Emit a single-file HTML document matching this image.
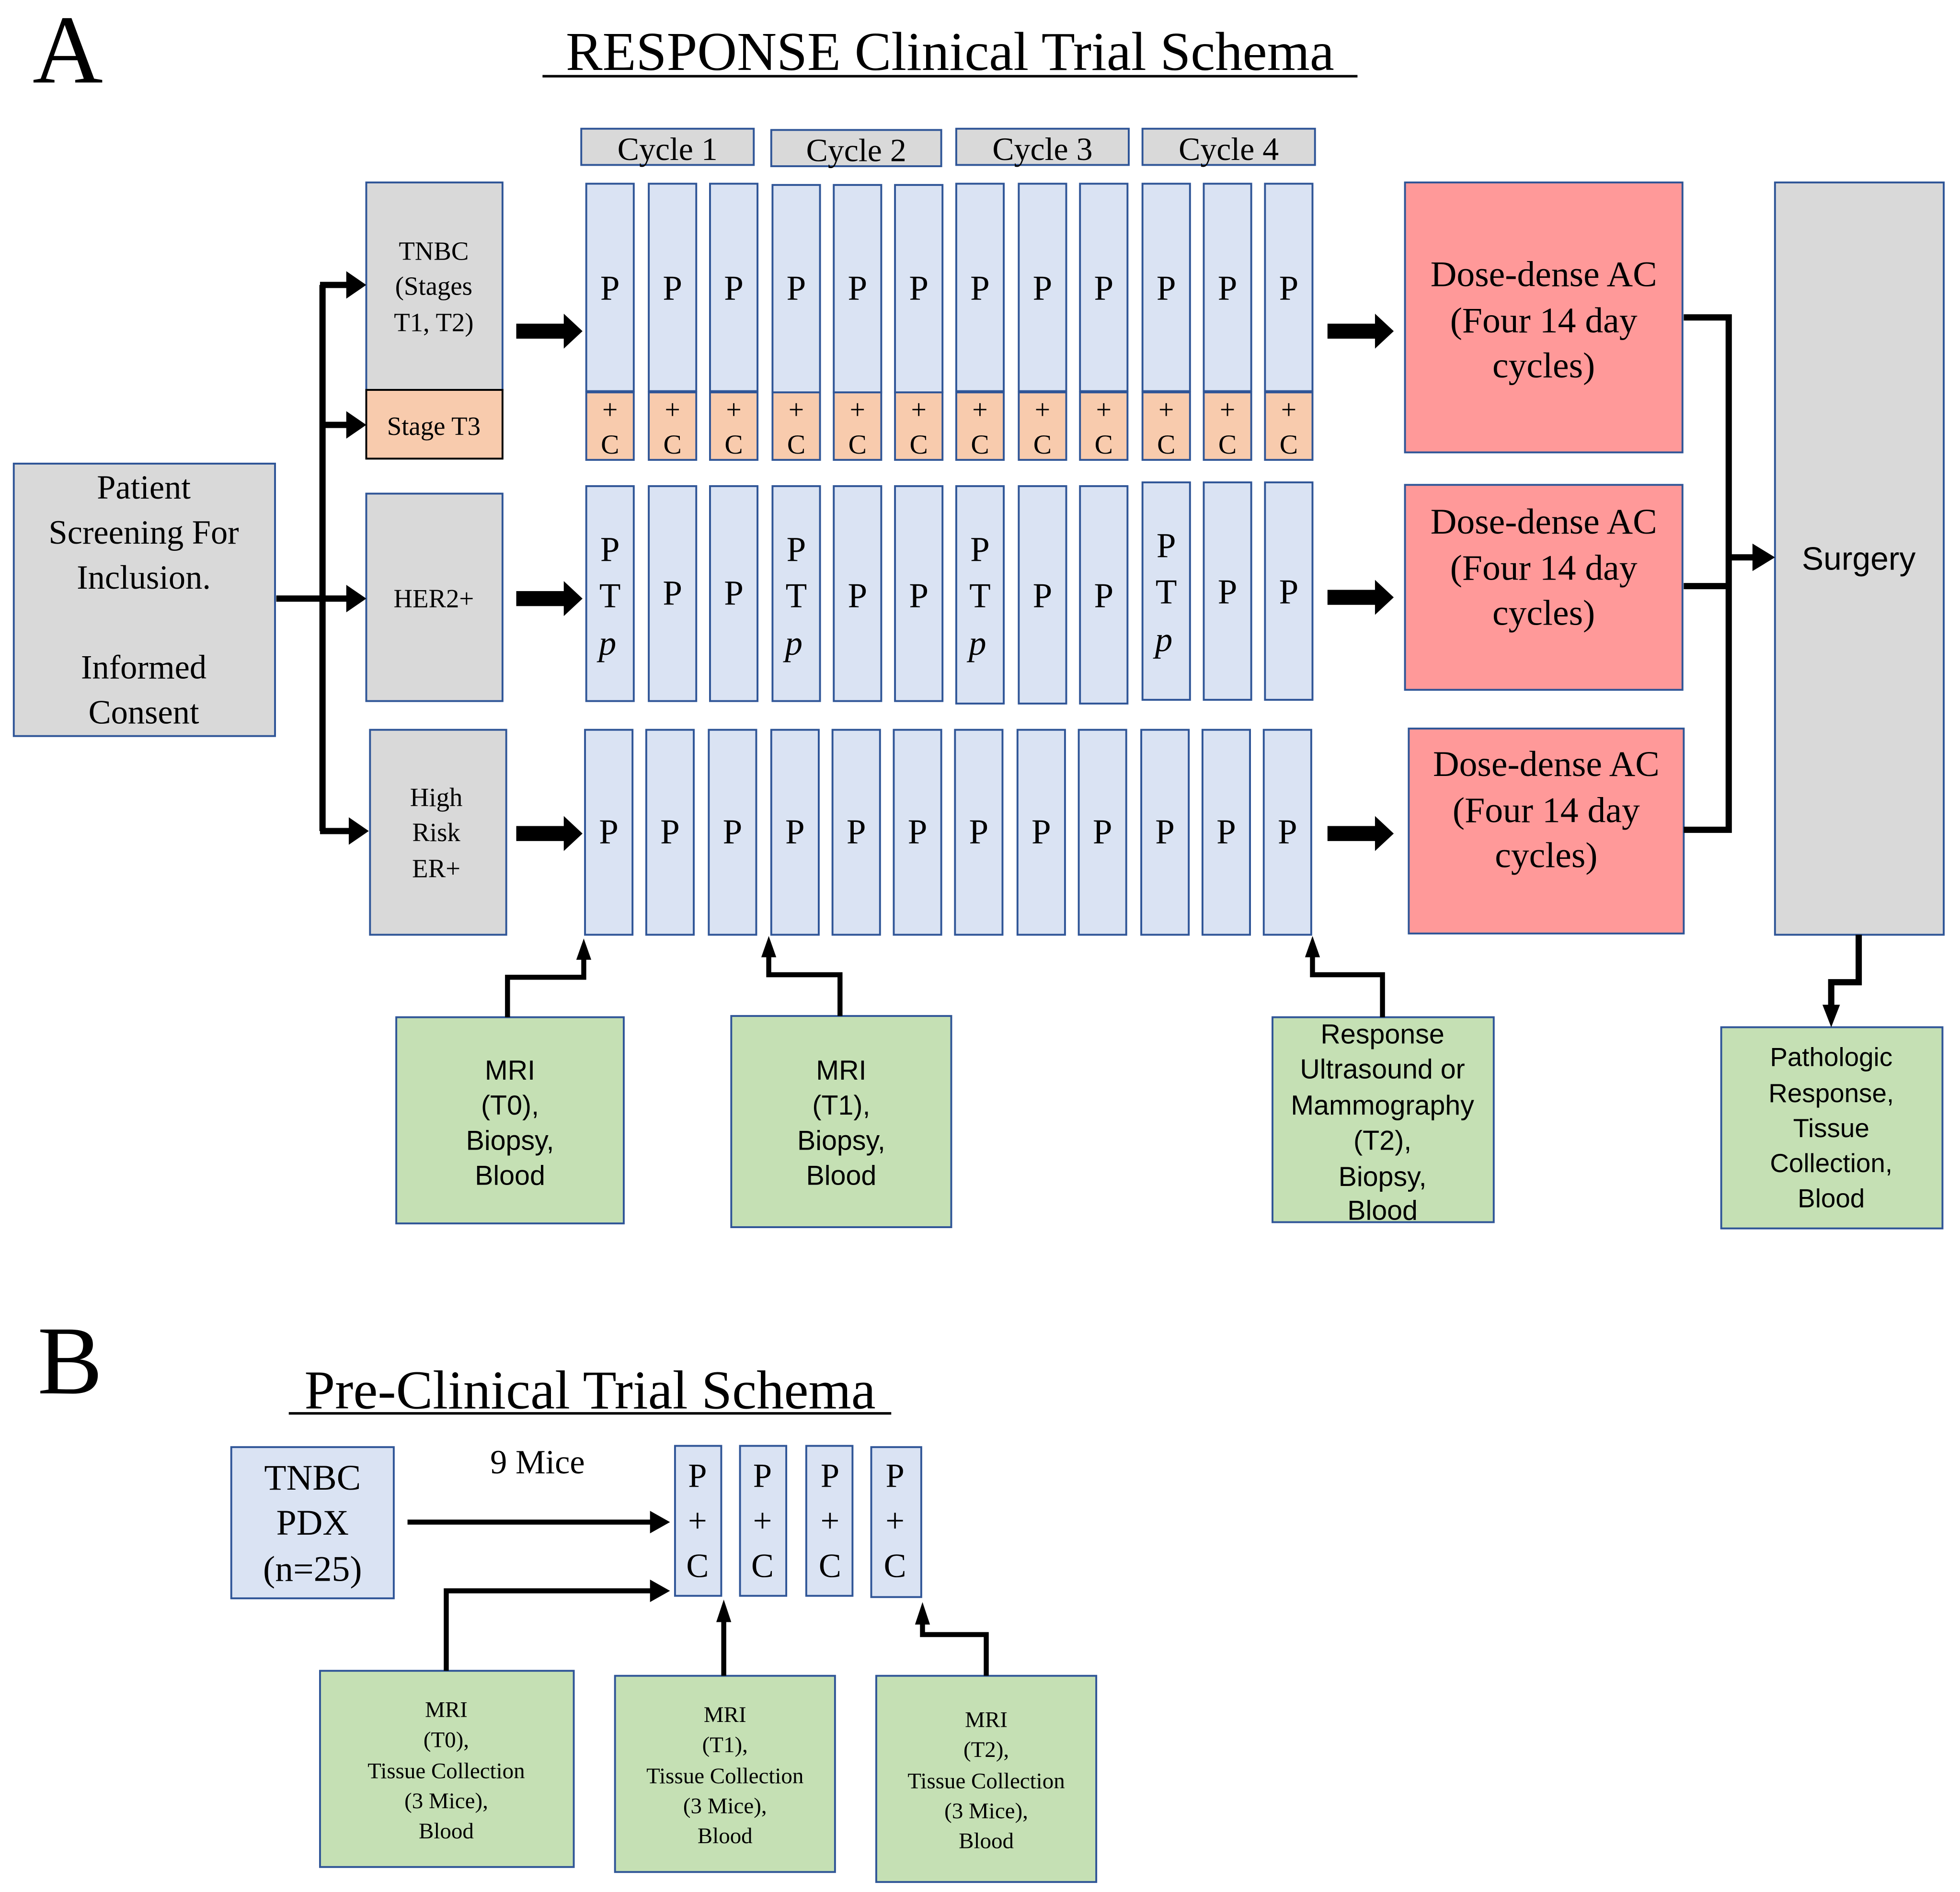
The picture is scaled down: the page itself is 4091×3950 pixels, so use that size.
<!DOCTYPE html>
<html><head><meta charset="utf-8">
<style>
html,body{margin:0;padding:0;background:#fff;}
svg{display:block;}
text{font-family:"Liberation Serif",serif;fill:#000;}
.s{font-family:"Liberation Sans",sans-serif;}
.b{fill:#dae3f3;stroke:#2f5597;stroke-width:1.5;}
.g{fill:#d9d9d9;stroke:#2f5597;stroke-width:1.5;}
.o{fill:#f8cbad;stroke:#2f5597;stroke-width:1.5;}
.r{fill:#ff9999;stroke:#2f5597;stroke-width:1.5;}
.gr{fill:#c5e0b4;stroke:#2f5597;stroke-width:1.5;}
.l{fill:none;stroke:#000;stroke-width:5;}
.l3{fill:none;stroke:#000;stroke-width:4;}
</style></head><body>
<svg width="4091" height="3950" viewBox="0 0 1568 1514" xmlns="http://www.w3.org/2000/svg">
<text x="26" y="66" font-size="78">A</text>
<text x="760" y="56" font-size="44" text-anchor="middle">RESPONSE Clinical Trial Schema</text>
<line x1="434" y1="61" x2="1086" y2="61" stroke="#000" stroke-width="2"/>
<text x="30" y="1115" font-size="78">B</text>
<text x="472" y="1127" font-size="44" text-anchor="middle">Pre-Clinical Trial Schema</text>
<line x1="231" y1="1131" x2="713" y2="1131" stroke="#000" stroke-width="2"/>

<rect class="g" x="465" y="103" width="138" height="29"/><text x="534" y="128" font-size="26" text-anchor="middle">Cycle 1</text>
<rect class="g" x="617" y="104" width="136" height="29"/><text x="685" y="129" font-size="26" text-anchor="middle">Cycle 2</text>
<rect class="g" x="765" y="103" width="138" height="29"/><text x="834" y="128" font-size="26" text-anchor="middle">Cycle 3</text>
<rect class="g" x="914" y="103" width="138" height="29"/><text x="983" y="128" font-size="26" text-anchor="middle">Cycle 4</text>

<rect class="g" x="11" y="371" width="209" height="218"/>
<text font-size="27" text-anchor="middle"><tspan x="115" y="399">Patient</tspan><tspan x="115" y="435">Screening For</tspan><tspan x="115" y="471">Inclusion.</tspan><tspan x="115" y="543">Informed</tspan><tspan x="115" y="579">Consent</tspan></text>

<rect class="g" x="293" y="146" width="109" height="166"/>
<text font-size="21" text-anchor="middle"><tspan x="347" y="208">TNBC</tspan><tspan x="347" y="236">(Stages</tspan><tspan x="347" y="265">T1, T2)</tspan></text>
<rect x="293" y="312" width="109" height="55" fill="#f8cbad" stroke="#000" stroke-width="1.5"/>
<text x="347" y="348" font-size="21" text-anchor="middle">Stage T3</text>
<rect class="g" x="293" y="395" width="109" height="166"/>
<text x="347" y="486" font-size="21" text-anchor="middle">HER2+</text>
<rect class="g" x="296" y="584" width="109" height="164"/>
<text font-size="21" text-anchor="middle"><tspan x="349" y="645">High</tspan><tspan x="349" y="673">Risk</tspan><tspan x="349" y="702">ER+</tspan></text>

<g font-size="28" text-anchor="middle">
<rect class="b" x="469" y="147" width="38" height="166"/><rect class="o" x="469" y="314" width="38" height="54"/><text x="488" y="240">P</text>
<rect class="b" x="519" y="147" width="38" height="166"/><rect class="o" x="519" y="314" width="38" height="54"/><text x="538" y="240">P</text>
<rect class="b" x="568" y="147" width="38" height="166"/><rect class="o" x="568" y="314" width="38" height="54"/><text x="587" y="240">P</text>
<rect class="b" x="618" y="148" width="38" height="166"/><rect class="o" x="618" y="314" width="38" height="54"/><text x="637" y="240">P</text>
<rect class="b" x="667" y="148" width="38" height="166"/><rect class="o" x="667" y="314" width="38" height="54"/><text x="686" y="240">P</text>
<rect class="b" x="716" y="148" width="38" height="166"/><rect class="o" x="716" y="314" width="38" height="54"/><text x="735" y="240">P</text>
<rect class="b" x="765" y="147" width="38" height="166"/><rect class="o" x="765" y="314" width="38" height="54"/><text x="784" y="240">P</text>
<rect class="b" x="815" y="147" width="38" height="166"/><rect class="o" x="815" y="314" width="38" height="54"/><text x="834" y="240">P</text>
<rect class="b" x="864" y="147" width="38" height="166"/><rect class="o" x="864" y="314" width="38" height="54"/><text x="883" y="240">P</text>
<rect class="b" x="914" y="147" width="38" height="166"/><rect class="o" x="914" y="314" width="38" height="54"/><text x="933" y="240">P</text>
<rect class="b" x="963" y="147" width="38" height="166"/><rect class="o" x="963" y="314" width="38" height="54"/><text x="982" y="240">P</text>
<rect class="b" x="1012" y="147" width="38" height="166"/><rect class="o" x="1012" y="314" width="38" height="54"/><text x="1031" y="240">P</text>
</g>
<g font-size="22" text-anchor="middle">
<text x="488" y="335">+</text><text x="488" y="363">C</text>
<text x="538" y="335">+</text><text x="538" y="363">C</text>
<text x="587" y="335">+</text><text x="587" y="363">C</text>
<text x="637" y="335">+</text><text x="637" y="363">C</text>
<text x="686" y="335">+</text><text x="686" y="363">C</text>
<text x="735" y="335">+</text><text x="735" y="363">C</text>
<text x="784" y="335">+</text><text x="784" y="363">C</text>
<text x="834" y="335">+</text><text x="834" y="363">C</text>
<text x="883" y="335">+</text><text x="883" y="363">C</text>
<text x="933" y="335">+</text><text x="933" y="363">C</text>
<text x="982" y="335">+</text><text x="982" y="363">C</text>
<text x="1031" y="335">+</text><text x="1031" y="363">C</text>
</g>

<g font-size="28" text-anchor="middle">
<rect class="b" x="469" y="389" width="38" height="172"/><text x="488" y="449">P</text><text x="488" y="486">T</text><text x="486" y="524" font-style="italic">p</text>
<rect class="b" x="519" y="389" width="38" height="172"/><text x="538" y="484">P</text>
<rect class="b" x="568" y="389" width="38" height="172"/><text x="587" y="484">P</text>
<rect class="b" x="618" y="389" width="38" height="172"/><text x="637" y="449">P</text><text x="637" y="486">T</text><text x="635" y="524" font-style="italic">p</text>
<rect class="b" x="667" y="389" width="38" height="172"/><text x="686" y="486">P</text>
<rect class="b" x="716" y="389" width="38" height="172"/><text x="735" y="486">P</text>
<rect class="b" x="765" y="389" width="38" height="174"/><text x="784" y="449">P</text><text x="784" y="486">T</text><text x="782" y="524" font-style="italic">p</text>
<rect class="b" x="815" y="389" width="38" height="174"/><text x="834" y="486">P</text>
<rect class="b" x="864" y="389" width="38" height="174"/><text x="883" y="486">P</text>
<rect class="b" x="914" y="386" width="38" height="174"/><text x="933" y="446">P</text><text x="933" y="483">T</text><text x="931" y="521" font-style="italic">p</text>
<rect class="b" x="963" y="386" width="38" height="174"/><text x="982" y="483">P</text>
<rect class="b" x="1012" y="386" width="38" height="174"/><text x="1031" y="483">P</text>
</g>

<g font-size="28" text-anchor="middle">
<rect class="b" x="468" y="584" width="38" height="164"/><text x="487" y="675">P</text>
<rect class="b" x="517" y="584" width="38" height="164"/><text x="536" y="675">P</text>
<rect class="b" x="567" y="584" width="38" height="164"/><text x="586" y="675">P</text>
<rect class="b" x="617" y="584" width="38" height="164"/><text x="636" y="675">P</text>
<rect class="b" x="666" y="584" width="38" height="164"/><text x="685" y="675">P</text>
<rect class="b" x="715" y="584" width="38" height="164"/><text x="734" y="675">P</text>
<rect class="b" x="764" y="584" width="38" height="164"/><text x="783" y="675">P</text>
<rect class="b" x="814" y="584" width="38" height="164"/><text x="833" y="675">P</text>
<rect class="b" x="863" y="584" width="38" height="164"/><text x="882" y="675">P</text>
<rect class="b" x="913" y="584" width="38" height="164"/><text x="932" y="675">P</text>
<rect class="b" x="962" y="584" width="38" height="164"/><text x="981" y="675">P</text>
<rect class="b" x="1011" y="584" width="38" height="164"/><text x="1030" y="675">P</text>
</g>

<rect class="r" x="1124" y="146" width="222" height="216"/>
<text font-size="29" text-anchor="middle"><tspan x="1235" y="229">Dose-dense AC</tspan><tspan x="1235" y="266">(Four 14 day</tspan><tspan x="1235" y="302">cycles)</tspan></text>
<rect class="r" x="1124" y="388" width="222" height="164"/>
<text font-size="29" text-anchor="middle"><tspan x="1235" y="427">Dose-dense AC</tspan><tspan x="1235" y="464">(Four 14 day</tspan><tspan x="1235" y="500">cycles)</tspan></text>
<rect class="r" x="1127" y="583" width="220" height="164"/>
<text font-size="29" text-anchor="middle"><tspan x="1237" y="621">Dose-dense AC</tspan><tspan x="1237" y="658">(Four 14 day</tspan><tspan x="1237" y="694">cycles)</tspan></text>

<rect class="g" x="1420" y="146" width="135" height="602"/>
<text x="1487" y="456" font-size="26" text-anchor="middle" class="s">Surgery</text>

<rect class="gr" x="317" y="814" width="182" height="165"/>
<text font-size="22" text-anchor="middle" class="s"><tspan x="408" y="864">MRI</tspan><tspan x="408" y="892">(T0),</tspan><tspan x="408" y="920">Biopsy,</tspan><tspan x="408" y="948">Blood</tspan></text>
<rect class="gr" x="585" y="813" width="176" height="169"/>
<text font-size="22" text-anchor="middle" class="s"><tspan x="673" y="864">MRI</tspan><tspan x="673" y="892">(T1),</tspan><tspan x="673" y="920">Biopsy,</tspan><tspan x="673" y="948">Blood</tspan></text>
<rect class="gr" x="1018" y="814" width="177" height="164"/>
<text font-size="22" text-anchor="middle" class="s"><tspan x="1106" y="835">Response</tspan><tspan x="1106" y="863">Ultrasound or</tspan><tspan x="1106" y="892">Mammography</tspan><tspan x="1106" y="920">(T2),</tspan><tspan x="1106" y="949">Biopsy,</tspan><tspan x="1106" y="976">Blood</tspan></text>
<rect class="gr" x="1377" y="822" width="177" height="161"/>
<text font-size="21" text-anchor="middle" class="s"><tspan x="1465" y="853">Pathologic</tspan><tspan x="1465" y="882">Response,</tspan><tspan x="1465" y="910">Tissue</tspan><tspan x="1465" y="938">Collection,</tspan><tspan x="1465" y="966">Blood</tspan></text>

<polyline class="l" points="221,479 258,479"/>
<polyline class="l" points="258,228 258,665"/>
<polyline class="l" points="256,228 278,228"/><polygon points="277,217 293,228 277,239"/>
<polyline class="l" points="256,340 278,340"/><polygon points="277,329 293,340 277,351"/>
<polyline class="l" points="256,479 278,479"/><polygon points="277,468 293,479 277,490"/>
<polyline class="l" points="256,665 280,665"/><polygon points="279,654 295,665 279,676"/>

<rect x="413" y="259" width="40" height="12"/><polygon points="451,251 466,265 451,279"/>
<rect x="413" y="473" width="40" height="12"/><polygon points="451,465 466,479 451,493"/>
<rect x="413" y="661" width="40" height="12"/><polygon points="451,653 466,667 451,681"/>

<rect x="1062" y="259" width="40" height="12"/><polygon points="1100,251 1115,265 1100,279"/>
<rect x="1062" y="472" width="40" height="12"/><polygon points="1100,464 1115,478 1100,492"/>
<rect x="1062" y="661" width="40" height="12"/><polygon points="1100,653 1115,667 1100,681"/>

<polyline class="l" points="1347,254 1383,254 1383,664 1347,664"/>
<polyline class="l" points="1347,469 1383,469"/>
<polyline class="l" points="1383,446 1403,446"/><polygon points="1402,435 1420,446 1402,457"/>

<polyline class="l" points="1487,748 1487,786 1465,786 1465,806"/><polygon points="1458,804 1465,822 1472,804"/>

<polyline class="l3" points="406,814 406,782 467,782 467,766"/><polygon points="461,768 467,751 473,768"/>
<polyline class="l3" points="672,813 672,780 615,780 615,764"/><polygon points="609,766 615,749 621,766"/>
<polyline class="l3" points="1106,814 1106,780 1050,780 1050,764"/><polygon points="1044,766 1050,749 1056,766"/>

<rect class="b" x="185" y="1158" width="130" height="121"/>
<text font-size="29" text-anchor="middle"><tspan x="250" y="1192">TNBC</tspan><tspan x="250" y="1228">PDX</tspan><tspan x="250" y="1265">(n=25)</tspan></text>
<text x="430" y="1179" font-size="27" text-anchor="middle">9 Mice</text>
<g font-size="27" text-anchor="middle">
<rect class="b" x="540" y="1157" width="37" height="120"/><text x="558" y="1190">P</text><text x="558" y="1226">+</text><text x="558" y="1262">C</text>
<rect class="b" x="592" y="1157" width="37" height="120"/><text x="610" y="1190">P</text><text x="610" y="1226">+</text><text x="610" y="1262">C</text>
<rect class="b" x="645" y="1157" width="37" height="120"/><text x="664" y="1190">P</text><text x="664" y="1226">+</text><text x="664" y="1262">C</text>
<rect class="b" x="697" y="1158" width="40" height="120"/><text x="716" y="1190">P</text><text x="716" y="1226">+</text><text x="716" y="1262">C</text>
</g>
<rect class="gr" x="256" y="1337" width="203" height="157"/>
<text font-size="18" text-anchor="middle"><tspan x="357" y="1374">MRI</tspan><tspan x="357" y="1398">(T0),</tspan><tspan x="357" y="1423">Tissue  Collection</tspan><tspan x="357" y="1447">(3 Mice),</tspan><tspan x="357" y="1471">Blood</tspan></text>
<rect class="gr" x="492" y="1341" width="176" height="157"/>
<text font-size="18" text-anchor="middle"><tspan x="580" y="1378">MRI</tspan><tspan x="580" y="1402">(T1),</tspan><tspan x="580" y="1427">Tissue  Collection</tspan><tspan x="580" y="1451">(3 Mice),</tspan><tspan x="580" y="1475">Blood</tspan></text>
<rect class="gr" x="701" y="1341" width="176" height="165"/>
<text font-size="18" text-anchor="middle"><tspan x="789" y="1382">MRI</tspan><tspan x="789" y="1406">(T2),</tspan><tspan x="789" y="1431">Tissue  Collection</tspan><tspan x="789" y="1455">(3 Mice),</tspan><tspan x="789" y="1479">Blood</tspan></text>

<polyline class="l3" points="326,1218 522,1218"/><polygon points="520,1209 536,1218 520,1227"/>
<polyline class="l3" points="357,1337 357,1273 522,1273"/><polygon points="520,1264 536,1273 520,1282"/>
<polyline class="l3" points="579,1341 579,1296"/><polygon points="573,1298 579,1280 585,1298"/>
<polyline class="l3" points="789,1341 789,1308 738,1308 738,1298"/><polygon points="732,1300 738,1282 744,1300"/>
</svg>
</body></html>
